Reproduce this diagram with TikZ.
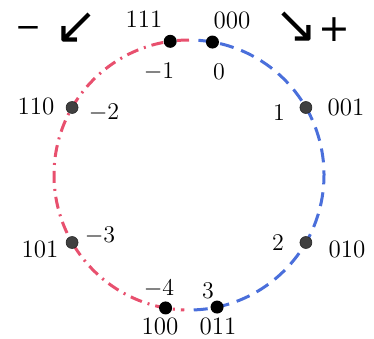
\documentclass[tikz,border=0pt]{standalone}
\usepackage{fontspec}
\newfontfamily\symfont{DejaVu Sans}
\definecolor{redc}{HTML}{E8506E}
\definecolor{bluec}{HTML}{4A6FDB}
\tikzset{
  bigdot/.style={circle,fill=black,inner sep=0pt,minimum size=6.5pt},
  sidedot/.style={circle,fill=black!75,draw=black!85,line width=0.3pt,inner sep=0pt,minimum size=6pt},
  lbl/.style={inner sep=0pt,font=\fontsize{12.5}{14}\selectfont},
  redarc/.style={redc,line width=1.5pt,dash pattern=on 6pt off 3pt on 1pt off 3pt},
  bluearc/.style={bluec,line width=1.5pt,dash pattern=on 7pt off 4pt},
  sym/.style={inner sep=0pt,font=\symfont\fontsize{19}{20}\selectfont},
  arrsym/.style={inner sep=0pt,font=\symfont\fontsize{26}{28}\selectfont},
  minsym/.style={inner sep=0pt,font=\symfont\fontsize{15.5}{17}\selectfont}
}
\begin{document}
\begin{tikzpicture}[x=0.5pt,y=-0.5pt]
\useasboundingbox (0,0) rectangle (374,338);
\coordinate (c) at (189,175);
% arcs (y axis flipped: negative angles are the upper half)
\draw[redarc] ([shift={(-90:135)}]c) arc[start angle=-90,end angle=-268,radius=135];
\draw[bluearc] ([shift={(-86:135)}]c) arc[start angle=-86,end angle=90,radius=135];
% dots
\node[bigdot] (n111) at ([shift={(-98:135)}]c) {};
\node[bigdot] (n000) at ([shift={(-80:135)}]c) {};
\node[sidedot] (n110) at ([shift={(-150:135)}]c) {};
\node[sidedot] (n001) at ([shift={(-30:135)}]c) {};
\node[sidedot] (n101) at ([shift={(150:135)}]c) {};
\node[sidedot] (n010) at ([shift={(30:135)}]c) {};
\node[bigdot] (n100) at ([shift={(100:135)}]c) {};
\node[bigdot] (n011) at ([shift={(78:135)}]c) {};
% labels
\node[lbl] (t111) at (144,19) {111};
\node[lbl] (t000) at (232,20) {000};
\node[lbl] (tm1) at (159,72) {$-1$};
\node[lbl] (t0) at (219,72) {$0$};
\node[lbl] (t110) at (36,106) {110};
\node[lbl] (tm2) at (104,113) {$-2$};
\node[lbl] (t1) at (279,113) {$1$};
\node[lbl] (t001) at (346,107) {001};
\node[lbl] (t101) at (40,249) {101};
\node[lbl] (tm3) at (100,236) {$-3$};
\node[lbl] (t2) at (278,243) {$2$};
\node[lbl] (t010) at (347,249) {010};
\node[lbl] (tm4) at (159,289) {$-4$};
\node[lbl] (t3) at (208,291) {$3$};
\node[lbl] (t100) at (160,326) {100};
\node[lbl] (t011) at (218,326) {011};
% corner symbols
\node[minsym] (minus) at (28,32) {−};
\node[arrsym] (swarrow) at (76,28) {↙};
\node[arrsym] (searrow) at (296,27) {↘};
\node[sym] (plus) at (334,30) {+};
\end{tikzpicture}
\end{document}
